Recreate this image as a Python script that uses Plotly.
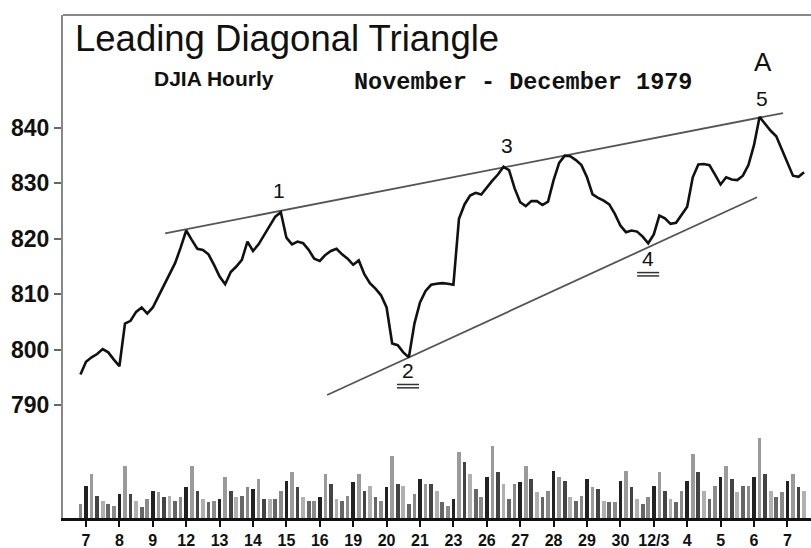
import plotly.graph_objects as go

# ---------------- data ----------------
day_labels = ["7", "8", "9", "12", "13", "14", "15", "16", "19", "20", "21",
              "23", "26", "27", "28", "29", "30", "12/3", "4", "5", "6", "7"]
hours_per_day = [6] * 21 + [5]

# DJIA hourly readings, Nov 7 - Dec 7 1979
djia_hourly = [
    795.5, 797.8, 798.6, 799.2, 800.1, 799.5,
    798.2, 797.0, 804.7, 805.2, 806.8, 807.6,
    806.5, 807.6, 809.6, 811.6, 813.6, 815.6,
    818.4, 821.5, 819.8, 818.2, 818.0, 817.2,
    815.3, 813.2, 811.8, 814.0, 815.0, 816.2,
    819.5, 817.8, 819.0, 820.6, 822.3, 824.0,
    824.8, 820.2, 819.0, 819.5, 819.2, 818.0,
    816.4, 816.0, 817.1, 817.8, 818.2, 817.2,
    816.4, 815.3, 816.1, 813.6, 812.0, 811.0,
    809.8, 807.6, 801.1, 800.8, 799.5, 798.6,
    804.7, 808.5, 810.6, 811.7, 811.9, 812.0,
    811.9, 811.7, 823.6, 826.2, 827.8, 828.3,
    828.0, 829.3, 830.5, 831.6, 833.0, 832.4,
    829.1, 826.6, 825.9, 826.8, 826.8, 826.1,
    826.7, 830.6, 833.7, 835.0, 834.9, 834.2,
    833.3, 831.1, 828.0, 827.4, 826.9, 826.2,
    824.5, 822.4, 821.2, 821.5, 821.3, 820.4,
    819.2, 820.8, 824.2, 823.7, 822.7, 822.9,
    824.4, 825.8, 831.1, 833.4, 833.5, 833.3,
    831.6, 829.8, 831.1, 830.7, 830.6, 831.4,
    833.3, 836.9, 842.0, 840.7, 839.5, 838.5,
    836.1, 834.0, 831.4, 831.2, 832.0,
]

# hourly volume, hundreds of thousands of shares
volume_hourly = [
    14, 32, 44, 22, 17, 14,
    12, 24, 52, 24, 17, 11,
    19, 27, 26, 21, 22, 17,
    21, 31, 52, 27, 19, 16,
    17, 19, 41, 27, 21, 22,
    31, 29, 39, 19, 19, 19,
    27, 37, 46, 31, 21, 17,
    17, 21, 44, 34, 19, 17,
    22, 36, 44, 27, 32, 21,
    17, 31, 62, 34, 32, 14,
    24, 39, 34, 34, 27, 16,
    12, 19, 66, 56, 44, 29,
    21, 41, 72, 46, 34, 19,
    34, 36, 52, 39, 26, 21,
    27, 47, 41, 37, 21, 17,
    22, 39, 31, 29, 17, 16,
    16, 37, 47, 31, 19, 14,
    21, 32, 46, 27, 19, 16,
    27, 37, 64, 46, 27, 19,
    32, 41, 52, 39, 26, 32,
    32, 41, 80, 44, 27, 21,
    26, 37, 44, 31, 27,
]

# trend lines (day position, DJIA value)
upper_trend_days = [2.37, 20.87]
upper_trend_values = [821.0, 842.7]
lower_trend_days = [7.22, 20.09]
lower_trend_values = [791.8, 827.5]

# wave labels
wave_names = ["1", "2", "3", "4", "5", "A"]
wave_days = [5.78, 9.64, 12.60, 16.83, 20.24, 20.27]
wave_values = [828.8, 796.3, 836.9, 816.5, 845.4, 851.9]

y_ticks = [790, 800, 810, 820, 830, 840]

# ---------------- build ----------------
x_hours = []
hour_slot = []
for k, n in enumerate(hours_per_day):
    for j in range(n):
        x_hours.append(k + (j - 1) / 6)
        hour_slot.append(j)

shades = ["#8a8a8a", "#222222", "#9a9a9a", "#444444", "#b0b0b0", "#666666"]
bar_colors = [shades[j] for j in hour_slot]

fig = go.Figure()

fig.add_trace(go.Bar(
    x=x_hours, y=volume_hourly, yaxis="y2", width=0.11,
    marker=dict(color=bar_colors, line=dict(width=0)),
    hoverinfo="skip",
))

fig.add_trace(go.Scatter(
    x=upper_trend_days, y=upper_trend_values, mode="lines",
    line=dict(color="#555555", width=1.8), hoverinfo="skip",
))
fig.add_trace(go.Scatter(
    x=lower_trend_days, y=lower_trend_values, mode="lines",
    line=dict(color="#555555", width=1.8), hoverinfo="skip",
))

fig.add_trace(go.Scatter(
    x=x_hours, y=djia_hourly, mode="lines",
    line=dict(color="#111111", width=2.6),
))

annotations = []
for name, d, v in zip(wave_names, wave_days, wave_values):
    annotations.append(dict(
        x=d, y=v, xref="x", yref="y", text=name, showarrow=False,
        font=dict(family="Liberation Sans", size=26 if name == "A" else 21, color="#111"),
    ))

annotations += [
    dict(x=(73 - 63) / 748, y=(518 - 38.5) / 503, xref="paper", yref="paper",
         xanchor="left", yanchor="middle", showarrow=False,
         text="Leading Diagonal Triangle",
         font=dict(family="Liberation Sans", size=36.5, color="#111")),
    dict(x=(152 - 63) / 748, y=(518 - 79) / 503, xref="paper", yref="paper",
         xanchor="left", yanchor="middle", showarrow=False,
         text="DJIA Hourly",
         font=dict(family="Liberation Sans", size=21, color="#111", weight="bold")),
    dict(x=(352 - 63) / 748, y=(518 - 83) / 503, xref="paper", yref="paper",
         xanchor="left", yanchor="middle", showarrow=False,
         text="November - December 1979",
         font=dict(family="Liberation Mono", size=23.5, color="#111", weight="bold")),
]

shapes = [
    dict(type="line", xref="paper", yref="paper", x0=0, x1=1, y0=1, y1=1,
         line=dict(color="#888888", width=2)),
]
# underline marks under waves 2 and 4
for name, d, v in zip(wave_names, wave_days, wave_values):
    if name in ("2", "4"):
        for off in (2.6, 3.2):
            shapes.append(dict(type="line", xref="x", yref="y",
                               x0=d - 0.33, x1=d + 0.33, y0=v - off, y1=v - off,
                               line=dict(color="#333333", width=1.5)))

fig.update_layout(
    width=811, height=548,
    margin=dict(l=63, r=0, t=15, b=30),
    paper_bgcolor="white", plot_bgcolor="white",
    showlegend=False, bargap=0,
    annotations=annotations, shapes=shapes,
    xaxis=dict(
        range=[-0.689, 21.707], tickmode="array",
        tickvals=list(range(len(day_labels))), ticktext=day_labels,
        ticks="outside", ticklen=6, tickwidth=2, tickcolor="#111",
        showline=True, linewidth=3, linecolor="#111",
        showgrid=False, zeroline=False,
        tickfont=dict(family="Liberation Sans", size=16, color="#111", weight="bold"),
    ),
    yaxis=dict(
        range=[769.6, 860.4], tickmode="array", tickvals=y_ticks,
        ticks="outside", ticklen=7, tickwidth=2, tickcolor="#666",
        showline=True, linewidth=2, linecolor="#888",
        showgrid=False, zeroline=False,
        tickfont=dict(family="Liberation Sans", size=23, color="#111", weight="bold"),
    ),
    yaxis2=dict(range=[0, 503], overlaying="y", visible=False),
)

fig.write_html("out.html", config={"displayModeBar": False},
               post_script="document.body.style.margin='0';")
